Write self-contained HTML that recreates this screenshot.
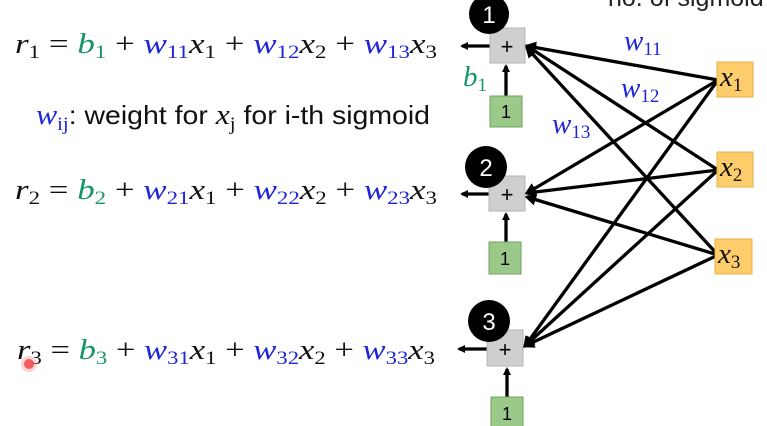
<!DOCTYPE html>
<html><head><meta charset="utf-8"><style>
html,body{margin:0;padding:0;background:#fff;}
svg{display:block;}
.m{font-family:"Liberation Serif",serif;font-style:italic;font-size:29px;fill:#111;}
.n{font-family:"Liberation Serif",serif;font-style:normal;}
.b{fill:#1f25d8;}
.g{fill:#16956a;}
.s{font-size:19px;font-style:normal;}
</style></head><body>
<svg width="767" height="426" viewBox="0 0 767 426" xmlns="http://www.w3.org/2000/svg">
<defs>
<marker id="ah" markerWidth="8" markerHeight="8" refX="6" refY="4" orient="auto" markerUnits="userSpaceOnUse" viewBox="0 0 8 8">
<path d="M0,0 L8,4 L0,8 Z" fill="#000"/></marker>
<marker id="ah2" markerWidth="12" markerHeight="12" refX="9" refY="6" orient="auto" markerUnits="userSpaceOnUse" viewBox="0 0 12 12">
<path d="M0,0 L12,6 L0,12 Z" fill="#000"/></marker>
</defs>

<text x="608" y="6" font-family="Liberation Sans,sans-serif" font-size="25" fill="#222">no. of sigmoid</text>

<text class="m" x="15" y="53" textLength="422" lengthAdjust="spacingAndGlyphs">r<tspan class="s" dy="5">1</tspan><tspan dy="-5" class="n"> =  </tspan><tspan class="g">b</tspan><tspan class="s g" dy="5">1</tspan><tspan dy="-5" class="n"> + </tspan><tspan class="b">w</tspan><tspan class="s b" dy="5">11</tspan><tspan dy="-5">x</tspan><tspan class="s" dy="5">1</tspan><tspan dy="-5" class="n"> + </tspan><tspan class="b">w</tspan><tspan class="s b" dy="5">12</tspan><tspan dy="-5">x</tspan><tspan class="s" dy="5">2</tspan><tspan dy="-5" class="n"> + </tspan><tspan class="b">w</tspan><tspan class="s b" dy="5">13</tspan><tspan dy="-5">x</tspan><tspan class="s" dy="5">3</tspan></text>

<text x="36" y="124" font-size="26" textLength="394" lengthAdjust="spacingAndGlyphs"><tspan class="m b">w</tspan><tspan class="m b s" dy="6">ij</tspan><tspan dy="-6" font-family="Liberation Sans,sans-serif" fill="#111">: weight for </tspan><tspan class="m">x</tspan><tspan class="m s" dy="6">j</tspan><tspan dy="-6" font-family="Liberation Sans,sans-serif" fill="#111"> for i-th sigmoid</tspan></text>

<text class="m" x="15" y="199" textLength="422" lengthAdjust="spacingAndGlyphs">r<tspan class="s" dy="5">2</tspan><tspan dy="-5" class="n"> =  </tspan><tspan class="g">b</tspan><tspan class="s g" dy="5">2</tspan><tspan dy="-5" class="n"> + </tspan><tspan class="b">w</tspan><tspan class="s b" dy="5">21</tspan><tspan dy="-5">x</tspan><tspan class="s" dy="5">1</tspan><tspan dy="-5" class="n"> + </tspan><tspan class="b">w</tspan><tspan class="s b" dy="5">22</tspan><tspan dy="-5">x</tspan><tspan class="s" dy="5">2</tspan><tspan dy="-5" class="n"> + </tspan><tspan class="b">w</tspan><tspan class="s b" dy="5">23</tspan><tspan dy="-5">x</tspan><tspan class="s" dy="5">3</tspan></text>

<text class="m" x="17" y="359" textLength="418" lengthAdjust="spacingAndGlyphs">r<tspan class="s" dy="5">3</tspan><tspan dy="-5" class="n"> = </tspan><tspan class="g">b</tspan><tspan class="s g" dy="5">3</tspan><tspan dy="-5" class="n"> + </tspan><tspan class="b">w</tspan><tspan class="s b" dy="5">31</tspan><tspan dy="-5">x</tspan><tspan class="s" dy="5">1</tspan><tspan dy="-5" class="n"> + </tspan><tspan class="b">w</tspan><tspan class="s b" dy="5">32</tspan><tspan dy="-5">x</tspan><tspan class="s" dy="5">2</tspan><tspan dy="-5" class="n"> + </tspan><tspan class="b">w</tspan><tspan class="s b" dy="5">33</tspan><tspan dy="-5">x</tspan><tspan class="s" dy="5">3</tspan></text>
<circle cx="29" cy="364" r="5" fill="#e33" opacity="0.8"/>
<circle cx="29" cy="364" r="8" fill="#f66" opacity="0.3"/>

<g stroke="#000" stroke-width="3.3" fill="none">
<line x1="718" y1="80" x2="527" y2="46" marker-end="url(#ah2)"/>
<line x1="718" y1="170" x2="527" y2="46" marker-end="url(#ah2)"/>
<line x1="718" y1="255" x2="527" y2="48" marker-end="url(#ah2)"/>
<line x1="718" y1="80" x2="527" y2="193" marker-end="url(#ah2)"/>
<line x1="718" y1="170" x2="527" y2="193" marker-end="url(#ah2)"/>
<line x1="718" y1="255" x2="527" y2="197" marker-end="url(#ah2)"/>
<line x1="718" y1="80" x2="525" y2="346" marker-end="url(#ah2)"/>
<line x1="718" y1="170" x2="525" y2="346" marker-end="url(#ah2)"/>
<line x1="718" y1="255" x2="525" y2="346" marker-end="url(#ah2)"/>
<line x1="506" y1="96" x2="506" y2="66" marker-end="url(#ah)"/>
<line x1="506" y1="242" x2="506" y2="214" marker-end="url(#ah)"/>
<line x1="507" y1="397" x2="507" y2="369" marker-end="url(#ah)"/>
<line x1="490" y1="46" x2="462" y2="46" marker-end="url(#ah)"/>
<line x1="490" y1="194" x2="462" y2="194" marker-end="url(#ah)"/>
<line x1="487" y1="349" x2="459" y2="349" marker-end="url(#ah)"/>
</g>

<g>
<rect x="490" y="28" width="35" height="35" fill="#cfcfcf" stroke="#b5b5b5"/>
<text x="507" y="54" text-anchor="middle" font-family="Liberation Sans,sans-serif" font-size="22">+</text>
<circle cx="489" cy="14" r="20" fill="#000"/>
<text x="489" y="23" text-anchor="middle" font-family="Liberation Sans,sans-serif" font-size="24" fill="#fff">1</text>
</g>
<g>
<rect x="489" y="176" width="36" height="35" fill="#cfcfcf" stroke="#b5b5b5"/>
<text x="507" y="202" text-anchor="middle" font-family="Liberation Sans,sans-serif" font-size="22">+</text>
<circle cx="486" cy="167" r="21" fill="#000"/>
<text x="486" y="176" text-anchor="middle" font-family="Liberation Sans,sans-serif" font-size="24" fill="#fff">2</text>
</g>
<g>
<rect x="487" y="330" width="36" height="36" fill="#cfcfcf" stroke="#b5b5b5"/>
<text x="505" y="357" text-anchor="middle" font-family="Liberation Sans,sans-serif" font-size="22">+</text>
<circle cx="489" cy="321" r="21" fill="#000"/>
<text x="489" y="330" text-anchor="middle" font-family="Liberation Sans,sans-serif" font-size="24" fill="#fff">3</text>
</g>

<g font-family="Liberation Sans,sans-serif" font-size="18" text-anchor="middle">
<rect x="490" y="96" width="32" height="31" fill="#9bc98a" stroke="#6fa35e"/>
<text x="506" y="118">1</text>
<rect x="489" y="242" width="32" height="32" fill="#9bc98a" stroke="#6fa35e"/>
<text x="505" y="265">1</text>
<rect x="491" y="397" width="32" height="32" fill="#9bc98a" stroke="#6fa35e"/>
<text x="507" y="420">1</text>
</g>

<g>
<rect x="717" y="62" width="36" height="35" fill="#fccd6a" stroke="#e8b04a"/>
<text class="m" x="720" y="86" font-size="25">x<tspan class="s" dy="5">1</tspan></text>
</g>
<g>
<rect x="717" y="152" width="36" height="35" fill="#fccd6a" stroke="#e8b04a"/>
<text class="m" x="720" y="176" font-size="25">x<tspan class="s" dy="5">2</tspan></text>
</g>
<g>
<rect x="715" y="239" width="37" height="35" fill="#fccd6a" stroke="#e8b04a"/>
<text class="m" x="718" y="263" font-size="25">x<tspan class="s" dy="5">3</tspan></text>
</g>

<text class="m b" x="624" y="50" font-size="27">w<tspan class="s" dy="5">11</tspan></text>
<text class="m b" x="621" y="97" font-size="27">w<tspan class="s" dy="5">12</tspan></text>
<text class="m b" x="552" y="133" font-size="27">w<tspan class="s" dy="5">13</tspan></text>
<text class="m g" x="463" y="86" font-size="27">b<tspan class="s" dy="5">1</tspan></text>
</svg>
</body></html>
